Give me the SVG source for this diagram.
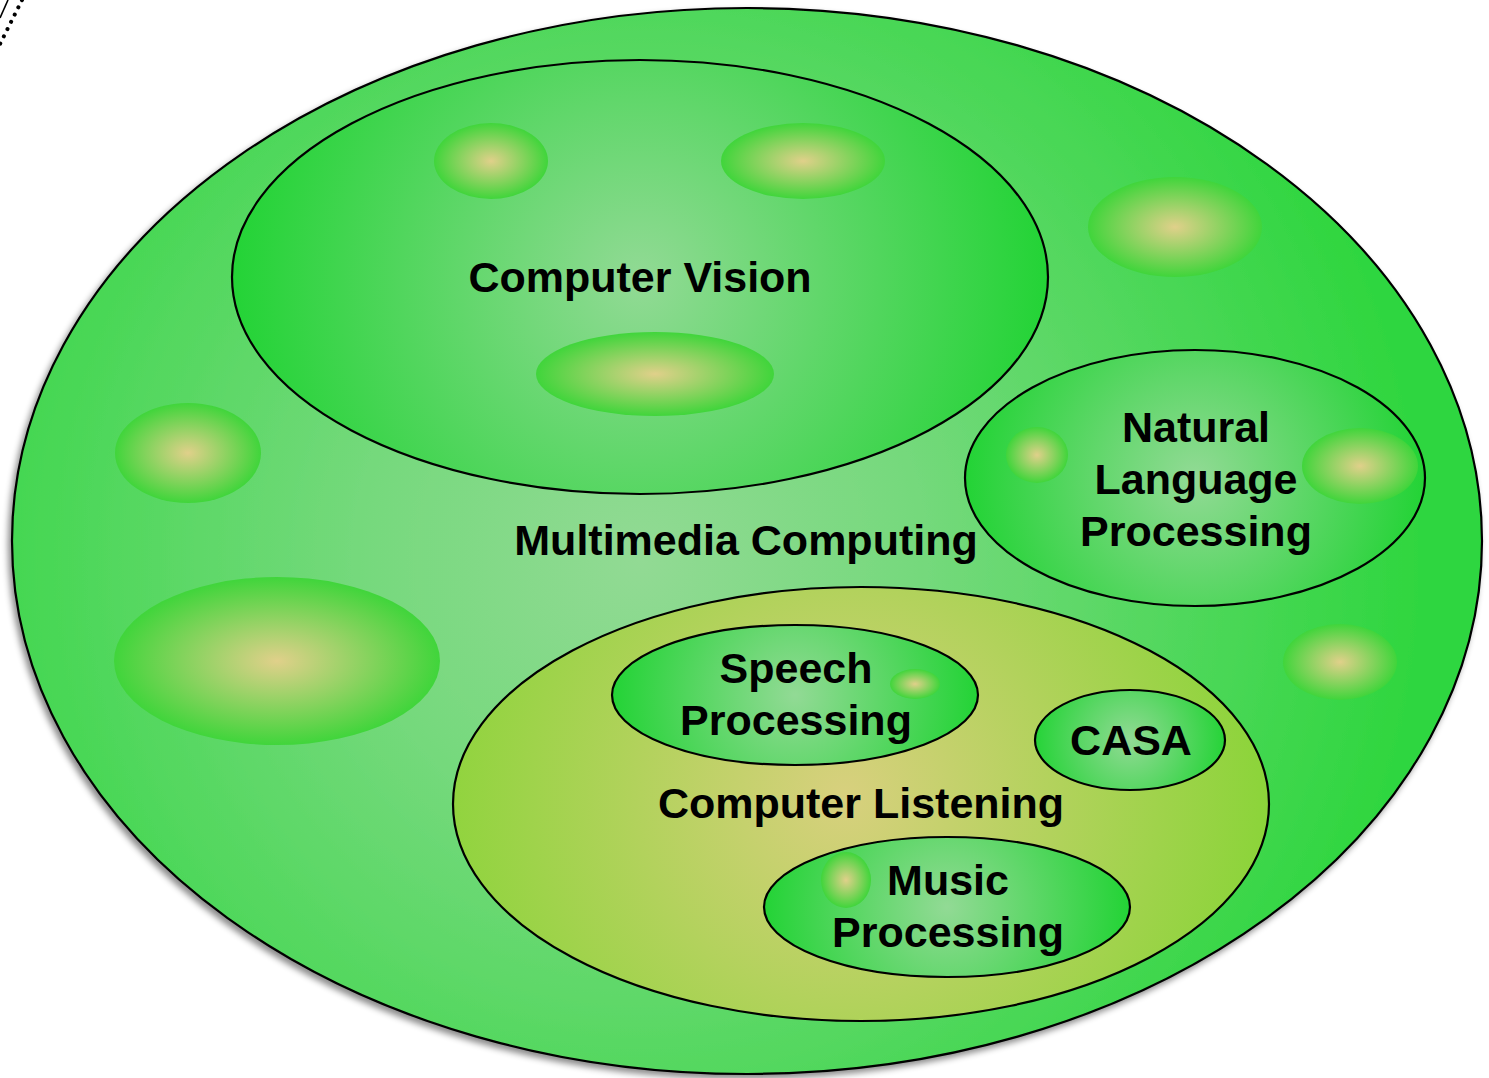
<svg xmlns="http://www.w3.org/2000/svg" width="1489" height="1078" viewBox="0 0 1489 1078">
  <defs>
    <radialGradient id="gOuter" gradientUnits="userSpaceOnUse" cx="640" cy="560" r="780">
      <stop offset="0" stop-color="#92da94"/>
      <stop offset="0.35" stop-color="#76d97d"/>
      <stop offset="1" stop-color="#2fd63f"/>
    </radialGradient>
    <radialGradient id="gCV" gradientUnits="userSpaceOnUse" cx="640" cy="280" r="420">
      <stop offset="0" stop-color="#92da95"/>
      <stop offset="1" stop-color="#20d333"/>
    </radialGradient>
    <radialGradient id="gNLP" gradientUnits="userSpaceOnUse" cx="1195" cy="478" r="235">
      <stop offset="0" stop-color="#92da95"/>
      <stop offset="1" stop-color="#20d333"/>
    </radialGradient>
    <radialGradient id="gSP" gradientUnits="userSpaceOnUse" cx="795" cy="695" r="188">
      <stop offset="0" stop-color="#92da95"/>
      <stop offset="1" stop-color="#20d333"/>
    </radialGradient>
    <radialGradient id="gMP" gradientUnits="userSpaceOnUse" cx="947" cy="907" r="188">
      <stop offset="0" stop-color="#92da95"/>
      <stop offset="1" stop-color="#20d333"/>
    </radialGradient>
    <radialGradient id="gCASA" gradientUnits="userSpaceOnUse" cx="1130" cy="740" r="100">
      <stop offset="0" stop-color="#92da95"/>
      <stop offset="1" stop-color="#20d333"/>
    </radialGradient>
    <radialGradient id="gYellow" gradientUnits="userSpaceOnUse" cx="845" cy="795" r="420">
      <stop offset="0" stop-color="#d8d07e"/>
      <stop offset="1" stop-color="#8cd43a"/>
    </radialGradient>
    <radialGradient id="gBlob" cx="0.5" cy="0.5" r="0.5">
      <stop offset="0" stop-color="#e0d08a"/>
      <stop offset="1" stop-color="#40d53b"/>
    </radialGradient>
    <filter id="shadow" x="-5%" y="-5%" width="110%" height="110%">
      <feDropShadow dx="-3" dy="4" stdDeviation="3" flood-color="#000" flood-opacity="0.45"/>
    </filter>
  </defs>
  <style>
    .ring { stroke: #000; stroke-width: 2.2; }
    .blob { fill: url(#gBlob); stroke: none; }
    .lbl { font-family: "Liberation Sans", Arial, sans-serif; font-weight: bold; font-size: 43px; fill: #000; text-anchor: middle; }
  </style>
  <rect width="1489" height="1078" fill="#fff"/>

  <g id="corner-fragment" fill="none" stroke="#000">
    <path d="M22,0 L0,44" stroke-width="4" stroke-dasharray="0.1 8" stroke-linecap="round"/>
    <path d="M8,0 L0,18" stroke-width="1.6"/>
  </g>

  <g id="multimedia-computing">
    <ellipse cx="747" cy="541" rx="735" ry="533" fill="url(#gOuter)" class="ring" filter="url(#shadow)"/>
    <ellipse class="blob" cx="1175" cy="227" rx="87" ry="50"/>
    <ellipse class="blob" cx="188" cy="453" rx="73" ry="50"/>
    <ellipse class="blob" cx="277" cy="661" rx="163" ry="84"/>
    <ellipse class="blob" cx="1340" cy="662" rx="57" ry="38"/>
    <text class="lbl" x="746" y="555">Multimedia Computing</text>
  </g>

  <g id="computer-vision">
    <ellipse cx="640" cy="277" rx="408" ry="217" fill="url(#gCV)" class="ring"/>
    <ellipse class="blob" cx="491" cy="161" rx="57" ry="38"/>
    <ellipse class="blob" cx="803" cy="161" rx="82" ry="38"/>
    <ellipse class="blob" cx="655" cy="374" rx="119" ry="42"/>
    <text class="lbl" x="640" y="292">Computer Vision</text>
  </g>

  <g id="natural-language-processing">
    <ellipse cx="1195" cy="478" rx="230" ry="128" fill="url(#gNLP)" class="ring"/>
    <ellipse class="blob" cx="1037" cy="455" rx="31" ry="28"/>
    <ellipse class="blob" cx="1360" cy="466" rx="58" ry="38"/>
    <text class="lbl" x="1196" y="442">Natural</text>
    <text class="lbl" x="1196" y="494">Language</text>
    <text class="lbl" x="1196" y="546">Processing</text>
  </g>

  <g id="computer-listening">
    <ellipse cx="861" cy="804" rx="408" ry="217" fill="url(#gYellow)" class="ring"/>
    <text class="lbl" x="861" y="818">Computer Listening</text>
  </g>

  <g id="speech-processing">
    <ellipse cx="795" cy="695" rx="183" ry="70" fill="url(#gSP)" class="ring"/>
    <ellipse class="blob" cx="915" cy="684" rx="25" ry="15"/>
    <text class="lbl" x="796" y="683">Speech</text>
    <text class="lbl" x="796" y="735">Processing</text>
  </g>

  <g id="casa">
    <ellipse cx="1130" cy="740" rx="95" ry="50" fill="url(#gCASA)" class="ring"/>
    <text class="lbl" x="1131" y="755">CASA</text>
  </g>

  <g id="music-processing">
    <ellipse cx="947" cy="907" rx="183" ry="70" fill="url(#gMP)" class="ring"/>
    <ellipse class="blob" cx="846" cy="880" rx="25" ry="28"/>
    <text class="lbl" x="948" y="895">Music</text>
    <text class="lbl" x="948" y="947">Processing</text>
  </g>

  <g id="connectors"/>
</svg>
